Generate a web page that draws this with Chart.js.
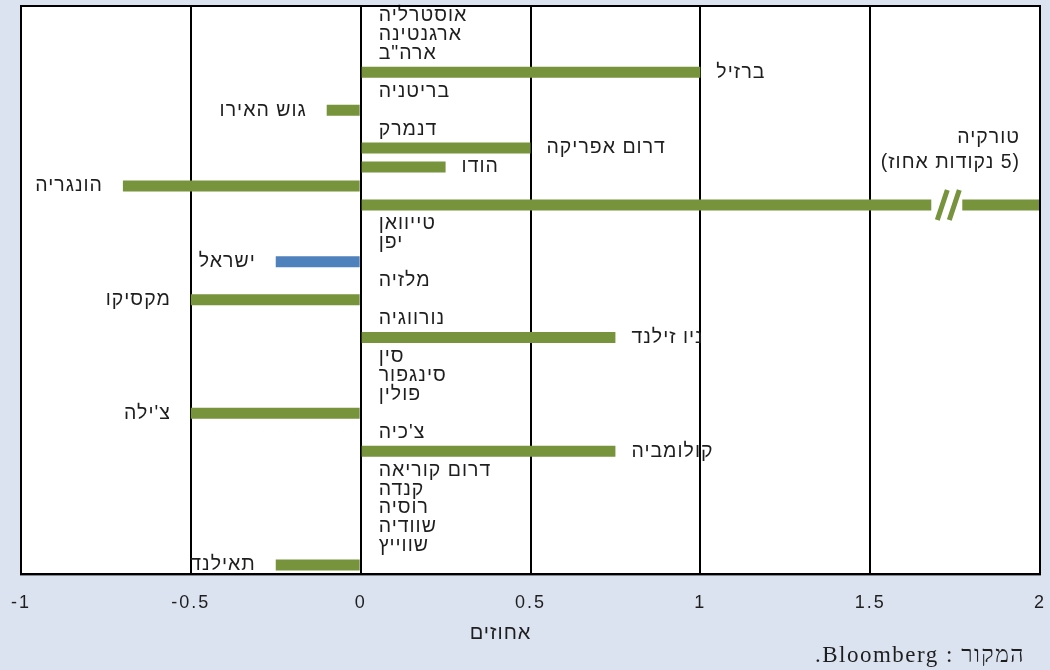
<!DOCTYPE html>
<html>
<head>
<meta charset="utf-8">
<script src="https://cdn.jsdelivr.net/npm/chart.js@4/dist/chart.umd.min.js"></script>
<style>
    html, body { margin: 0; padding: 0; background: #dce3f0; }
    #wrap { width: 1050px; height: 670px; position: relative; }
</style>
</head>
<body>
<div id="wrap"><canvas id="rateChart" width="1050" height="670"></canvas></div>
<script>
// countries, top to bottom
const countries = [
    "אוסטרליה", "ארגנטינה", "ארה\"ב", "ברזיל", "בריטניה", "גוש האירו", "דנמרק",
    "דרום אפריקה", "הודו", "הונגריה", "טורקיה", "טייוואן", "יפן", "ישראל",
    "מלזיה", "מקסיקו", "נורווגיה", "ניו זילנד", "סין", "סינגפור", "פולין",
    "צ'ילה", "צ'כיה", "קולומביה", "דרום קוריאה", "קנדה", "רוסיה", "שוודיה",
    "שווייץ", "תאילנד"
];

// change in percent (Turkey is 5, drawn cut at the axis end)
const changes = [
    0, 0, 0, 1, 0, -0.1, 0,
    0.5, 0.25, -0.7, 5, 0, 0, -0.25,
    0, -0.5, 0, 0.75, 0, 0, 0,
    -0.5, 0, 0.75, 0, 0, 0, 0,
    0, -0.25
];

const xTicks = [-1, -0.5, 0, 0.5, 1, 1.5, 2];
const highlight = "ישראל";
const brokenBar = "טורקיה";
const brokenNote = ["טורקיה", "(5 נקודות אחוז)"];
const axisTitle = "אחוזים";
const sourceText = "המקור : Bloomberg.";

const green = "#77933c";
const blue = "#4f81bd";
const textColor = "#1e1e1e";
const labelFont = "19.5px 'Liberation Sans', Arial, sans-serif";

// white plot area + frame + tick spacing
const plotBox = {
    id: "plotBox",
    beforeDraw(chart) {
        const { ctx, chartArea: a } = chart;
        ctx.save();
        ctx.fillStyle = "#ffffff";
        ctx.fillRect(a.left, a.top, a.right - a.left, a.bottom - a.top);
        ctx.restore();
        ctx.letterSpacing = "2px";
    },
    beforeDatasetsDraw(chart) {
        chart.ctx.letterSpacing = "0px";
    },
    afterDraw(chart) {
        const { ctx, chartArea: a } = chart;
        ctx.save();
        ctx.strokeStyle = "#000";
        ctx.lineWidth = 2;
        ctx.strokeRect(a.left, a.top, a.right - a.left, a.bottom - a.top);
        ctx.restore();
    }
};

// country names next to bars, turkey break, titles
const barLabels = {
    id: "barLabels",
    afterDatasetsDraw(chart) {
        const { ctx, chartArea: a } = chart;
        const x = chart.scales.x;
        const meta = chart.getDatasetMeta(0);
        const zero = x.getPixelForValue(0);

        ctx.save();
        ctx.font = labelFont;
        ctx.letterSpacing = "1px";
        ctx.fillStyle = textColor;
        ctx.textBaseline = "middle";
        ctx.direction = "rtl";

        meta.data.forEach((bar, i) => {
            const v = changes[i];
            const name = countries[i];
            if (name === brokenBar) return;
            if (v > 0) {
                ctx.textAlign = "left";
                ctx.fillText(name, bar.x + 16, bar.y);
            } else if (v < 0) {
                ctx.textAlign = "right";
                ctx.fillText(name, bar.x - 20, bar.y);
            } else {
                ctx.textAlign = "left";
                ctx.fillText(name, zero + 18, bar.y);
            }
        });

        // turkey: break mark and note
        const ti = countries.indexOf(brokenBar);
        const tb = meta.data[ti];
        const c = x.getPixelForValue(1.73);
        ctx.fillStyle = "#ffffff";
        ctx.fillRect(c - 17, tb.y - 8, 31, 16);
        ctx.strokeStyle = green;
        ctx.lineWidth = 5;
        [-6, 6].forEach(o => {
            ctx.beginPath();
            ctx.moveTo(c + o - 5, tb.y + 15);
            ctx.lineTo(c + o + 5, tb.y - 15);
            ctx.stroke();
        });

        ctx.fillStyle = textColor;
        ctx.textAlign = "right";
        ctx.fillText(brokenNote[0], a.right - 20, tb.y - 67);
        ctx.fillText(brokenNote[1], a.right - 20, tb.y - 42);

        // axis title
        ctx.font = "20px 'Liberation Sans', Arial, sans-serif";
        ctx.textAlign = "center";
        ctx.fillText(axisTitle, (a.left + a.right) / 2 - 30, a.bottom + 59);

        // source
        ctx.font = "23px 'Liberation Serif', 'Times New Roman', serif";
        ctx.letterSpacing = "1.5px";
        ctx.textAlign = "right";
        ctx.fillText(sourceText, a.right - 15, a.bottom + 82);
        ctx.restore();
    }
};

new Chart(document.getElementById("rateChart"), {
    type: "bar",
    data: {
        labels: countries,
        datasets: [{
            data: changes,
            backgroundColor: countries.map(c => c === highlight ? blue : green),
            barPercentage: 0.58,
            categoryPercentage: 1
        }]
    },
    options: {
        indexAxis: "y",
        responsive: false,
        animation: false,
        devicePixelRatio: 1,
        layout: { padding: { left: 21, right: 10, top: 6, bottom: 38 } },
        plugins: {
            legend: { display: false },
            tooltip: { enabled: false }
        },
        scales: {
            y: { display: false },
            x: {
                min: xTicks[0],
                max: xTicks[xTicks.length - 1],
                afterBuildTicks: axis => {
                    axis.ticks = xTicks.map(v => ({ value: v }));
                },
                afterFit: axis => {
                    axis.paddingLeft = 0;
                    axis.paddingRight = 0;
                },
                grid: { color: "#000", lineWidth: 2, drawTicks: false },
                border: { color: "#000", width: 2 },
                ticks: {
                    padding: 18,
                    color: textColor,
                    font: { family: "'Liberation Sans', Arial, sans-serif", size: 18 },
                    callback: v => String(v)
                }
            }
        }
    },
    plugins: [plotBox, barLabels]
});
</script>
</body>
</html>
